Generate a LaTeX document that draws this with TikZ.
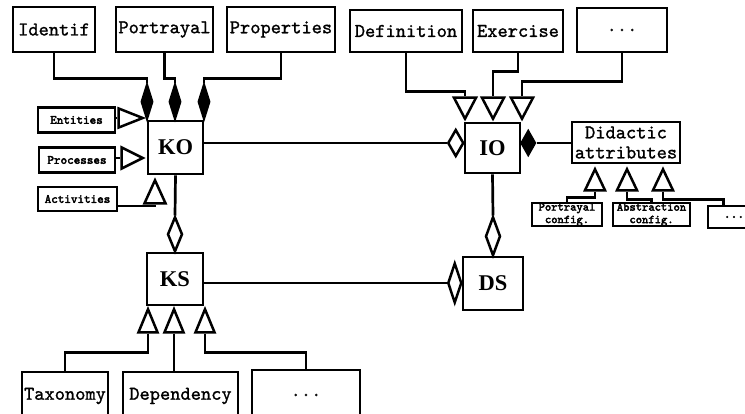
\documentclass[tikz,border=0pt]{standalone}
\usepackage{fontspec}
\setmainfont{Liberation Serif}
\newfontfamily\ttmed{lmmono10-regular.otf}[FakeBold=1.2]
\newfontfamily\ttheavy{lmmono10-regular.otf}[FakeBold=3]
\usetikzlibrary{shapes.geometric}
\tikzset{
  box/.style={draw, line width=2.9pt, inner sep=0pt, font=\ttmed\fontsize{19.5}{21}\selectfont},
  sbox/.style={draw, line width=2.8pt, inner sep=0pt, font=\ttheavy\fontsize{12.5}{12}\selectfont, align=center},
  cls/.style={draw, line width=2.9pt, inner sep=0pt, font=\bfseries\fontsize{22.5}{24}\selectfont},
  conn/.style={line width=2.7pt},
  hdia/.style={diamond, draw, line width=2.5pt, inner sep=0pt, fill=white},
  fdia/.style={diamond, draw, line width=1.5pt, inner sep=0pt, fill=black},
  tri/.style={isosceles triangle, isosceles triangle stretches, draw, line width=2.5pt, inner sep=0pt, fill=white, minimum width=22pt, minimum height=20pt},
}
\begin{document}
\begin{tikzpicture}[x=1pt, y=-1pt]
\clip (0,0) rectangle (745,413);
\fill[white] (0,0) rectangle (745,413);
% top boxes
\node[box, minimum width=82pt, minimum height=45pt] (identif) at (54,29.5) {Identif};
\node[box, minimum width=97pt, minimum height=45pt] (portrayal) at (164.5,29.5) {Portrayal};
\node[box, minimum width=108pt, minimum height=45pt] (properties) at (281,29.5) {Properties};
\node[box, minimum width=112pt, minimum height=42pt] (definition) at (406,31) {Definition};
\node[box, minimum width=90pt, minimum height=42pt] (exercise) at (518,31) {Exercise};
\node[box, minimum width=90pt, minimum height=44pt] (dotsa) at (622,30) {...};
% class boxes
\node[cls, minimum width=55pt, minimum height=53pt] (KO) at (175.5,147.5) {KO};
\node[cls, minimum width=55pt, minimum height=50pt] (IO) at (492.5,148) {IO};
\node[cls, minimum width=56pt, minimum height=52pt] (KS) at (175,279) {KS};
\node[cls, minimum width=60pt, minimum height=53pt] (DS) at (493,283.5) {DS};
% small left boxes
\node[sbox, minimum width=77pt, minimum height=25pt] (entities) at (76.5,120) {Entities};
\node[sbox, minimum width=76pt, minimum height=25pt] (processes) at (77,160) {Processes};
\node[sbox, minimum width=79pt, minimum height=24pt] (activities) at (77.5,199) {Activities};
% didactic
\node[box, minimum width=108pt, minimum height=41pt, align=center, font=\ttmed\fontsize{19.5}{20}\selectfont] (didactic) at (626,142.5) {Didactic\\attributes};
\node[sbox, minimum width=70pt, minimum height=23pt, font=\ttheavy\fontsize{12}{12.5}\selectfont] (pconfig) at (567,214.5) {Portrayal\\config.};
\node[sbox, minimum width=77pt, minimum height=23pt, font=\ttheavy\fontsize{12}{12.5}\selectfont] (aconfig) at (651.5,214.5) {Abstraction\\config.};
\node[sbox, minimum width=52pt, minimum height=22pt, font=\ttheavy\fontsize{13}{14}\selectfont] (dotsb) at (734,217) {...};
% bottom boxes
\node[box, minimum width=86pt, minimum height=48pt] (taxonomy) at (65,396) {Taxonomy};
\node[box, minimum width=115pt, minimum height=48pt] (dependency) at (180.5,396) {Dependency};
\node[box, minimum width=108pt, minimum height=50pt] (dotsc) at (306,395) {...};
% diamonds on KO
\node[fdia, minimum width=12pt, minimum height=37pt, anchor=south] (dk1) at (147,121) {};
\node[fdia, minimum width=12pt, minimum height=37pt, anchor=south] (dk2) at (175,121) {};
\node[fdia, minimum width=12pt, minimum height=37pt, anchor=south] (dk3) at (204,121) {};
% diamonds around IO
\node[hdia, minimum width=16pt, minimum height=27pt, anchor=east] (iol) at (465,143) {};
\node[fdia, minimum width=15pt, minimum height=26pt, anchor=west] (ior) at (520,143) {};
% diamond on KS (from KO), on DS
\node[hdia, minimum width=15pt, minimum height=35pt, anchor=south] (ksd) at (175,253) {};
\node[hdia, minimum width=15pt, minimum height=39pt, anchor=south] (dsd) at (493,257) {};
\node[hdia, minimum width=14pt, minimum height=40pt, anchor=east] (dsl) at (463,283) {};
% triangles into KO
\node[tri, minimum width=19pt, minimum height=24pt, anchor=apex] (te) at (146,118) {};
\node[tri, minimum width=21pt, minimum height=21pt, anchor=apex] (tp) at (146,158) {};
\node[tri, rotate=90, minimum width=21pt, minimum height=23pt, anchor=apex] (ta) at (155,177) {};
% triangles into IO
\node[tri, rotate=-90, minimum width=22pt, minimum height=21pt, anchor=apex] (ti1) at (465,122) {};
\node[tri, rotate=-90, minimum width=22pt, minimum height=21pt, anchor=apex] (ti2) at (493,122) {};
\node[tri, rotate=-90, minimum width=22pt, minimum height=21pt, anchor=apex] (ti3) at (522,122) {};
% triangles into didactic
\node[tri, rotate=90, minimum width=20pt, minimum height=21pt, anchor=apex] (td1) at (595,166) {};
\node[tri, rotate=90, minimum width=20pt, minimum height=21pt, anchor=apex] (td2) at (627,166) {};
\node[tri, rotate=90, minimum width=20pt, minimum height=21pt, anchor=apex] (td3) at (663,166) {};
% triangles into KS
\node[tri, rotate=90, minimum width=19pt, minimum height=23pt, anchor=apex] (tk1) at (148,306) {};
\node[tri, rotate=90, minimum width=19pt, minimum height=23pt, anchor=apex] (tk2) at (174,306) {};
\node[tri, rotate=90, minimum width=19pt, minimum height=23pt, anchor=apex] (tk3) at (205,306) {};
% connectors
\begin{scope}[conn]
\draw (identif.south) -- ++(0,25) -| (dk1.north);
\draw (portrayal.south) -- ++(0,25) -| (dk2.north);
\draw (properties.south) -- ++(0,25) -| (dk3.north);
\draw (definition.south) -- ++(0,38) -| (ti1.lower side);
\draw (exercise.south) -- ++(0,18) -| (ti2.lower side);
\draw (dotsa.south) -- ++(0,28) -| (ti3.lower side);
\draw (entities.east |- te.lower side) -- (te.lower side);
\draw (processes.east |- tp.lower side) -- (tp.lower side);
\draw ([yshift=-7pt]activities.east) -| (ta.lower side);
\draw (KO.east |- iol.west) -- (iol.west);
\draw (ior.east) -- (didactic.west |- ior.east);
\draw (td1.lower side) -- ++(0,6) -| (pconfig.north);
\draw (td2.lower side) -- ++(0,8) -| (aconfig.north);
\draw (td3.lower side) -- ++(0,8) -| ([xshift=17pt]dotsb.north west);
\draw (IO.south) -- (dsd.north);
\draw (KO.south) -- (ksd.north);
\draw (KS.east |- dsl.west) -- (dsl.west);
\draw (tk1.lower side) -- ++(0,19) -| (taxonomy.north);
\draw (tk2.lower side) -- (tk2.lower side |- dependency.north);
\draw (tk3.lower side) -- ++(0,19) -| (dotsc.north);
\end{scope}
\end{tikzpicture}
\end{document}
